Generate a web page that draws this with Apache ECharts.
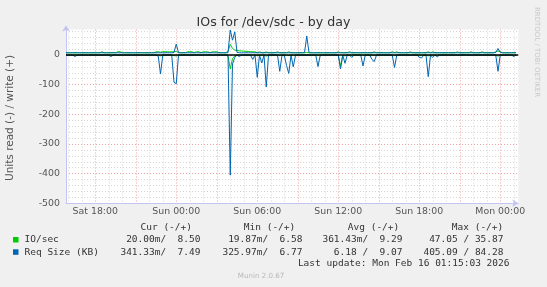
<!DOCTYPE html>
<html><head><meta charset="utf-8">
<script src="https://cdn.jsdelivr.net/npm/echarts@6/dist/echarts.min.js"></script>
<style>html,body{margin:0;padding:0;background:#f0f0f0}#c{width:547px;height:287px}</style>
</head><body><div id="c"></div>
<script>
// ---- data (10-minute samples from Sat 15:50) ----
const dayNames = ['Sat', 'Sun', 'Mon'];
const startMinute = 15 * 60 + 50;
const stepMinutes = 10;
const slotCount = 202;
const tickLabels = ['Sat 18:00', 'Sun 00:00', 'Sun 06:00', 'Sun 12:00', 'Sun 18:00', 'Mon 00:00'];
const yTickLabels = ['-500', '-400', '-300', '-200', '-100', '0'];

// IO/sec read (drawn negative)
const ioRead = [
 -0.02,-0.02,-0.02,-0.02,-0.5,-0.02,-0.02,-0.02,-0.02,-0.02,
 -0.02,-0.02,-0.02,-0.02,-0.02,-0.02,-0.02,-0.02,-0.02,-0.02,
 -0.5,-0.02,-0.02,-0.02,-0.02,-0.02,-0.02,-0.02,-0.02,-0.02,
 -0.02,-0.02,-0.02,-0.02,-0.02,-0.02,-0.02,-0.02,-0.02,-0.02,
 -0.02,-0.5,-3,-0.02,-0.02,-0.02,-0.02,-0.02,-2,-3,
 -0.02,-0.02,-0.02,-0.02,-0.02,-0.02,-0.02,-0.02,-0.02,-0.02,
 -0.02,-0.02,-0.02,-0.02,-0.02,-0.02,-0.02,-0.02,-0.02,-0.02,
 -0.02,-0.02,-3,-47.05,-12,-3,-0.5,-0.5,-0.02,-0.02,
 -0.02,-0.02,-0.02,-1,-0.02,-2,-0.02,-1,-0.02,-4,
 -0.02,-0.02,-0.02,-0.02,-0.02,-2,-0.02,-0.02,-1,-2,
 -0.02,-1,-0.02,-0.02,-0.02,-0.02,-0.02,-0.02,-0.02,-0.02,
 -0.02,-0.02,-1,-0.02,-0.02,-0.02,-0.02,-0.02,-0.02,-0.02,
 -0.02,-0.02,-38,-0.5,-3,-0.02,-0.02,-0.5,-0.02,-0.02,
 -0.02,-0.02,-1,-0.02,-0.02,-0.02,-0.5,-1,-0.02,-0.02,
 -0.02,-0.02,-0.02,-0.02,-0.02,-0.02,-2,-0.02,-0.02,-0.02,
 -0.02,-0.02,-0.02,-0.02,-0.02,-0.02,-0.02,-0.5,-0.5,-0.02,
 -0.02,-3,-0.02,-0.5,-0.02,-0.5,-0.02,-0.02,-0.02,-0.02,
 -0.02,-0.02,-0.02,-0.02,-0.02,-0.02,-0.02,-0.02,-0.02,-0.02,
 -0.02,-0.02,-0.02,-0.02,-0.02,-0.02,-0.02,-0.02,-0.02,-0.02,
 -0.02,-0.02,-4,-0.02,-0.02,-0.02,-0.02,-0.02,-0.02,-0.5,
 -0.02
];
// IO/sec write (positive)
const ioWrite = [
 7.6,7.5,7.6,7.7,7.5,7.6,7.6,7.5,7.6,7.5,
 7.6,7.5,7.6,7.6,7.5,7.7,10.8,7.6,7.5,7.6,
 7.5,7.6,7.6,10.8,11.0,7.7,7.5,7.6,7.5,7.6,
 7.6,7.5,7.7,7.6,7.5,7.6,7.6,7.5,7.7,7.6,
 10.5,11.0,9.5,11.2,10.8,11.0,10.6,11.0,10.8,12.0,
 7.8,7.6,7.7,7.6,10.8,11.0,10.6,7.7,11.0,10.8,
 7.7,10.9,10.7,11.0,7.8,10.8,10.6,11.0,7.7,7.6,
 7.6,7.7,12.0,35.87,22.0,16.5,15.0,14.0,13.5,13.0,
 12.5,12.0,11.5,11.0,10.5,7.8,10.8,7.7,7.6,10.6,
 7.7,7.6,7.6,7.8,10.8,7.6,7.6,7.7,7.6,10.8,
 7.7,7.6,7.5,7.6,7.7,7.6,7.5,8.5,7.6,7.7,
 7.6,7.5,7.7,7.6,7.6,7.5,7.7,7.6,7.5,7.6,
 7.6,10.8,7.8,7.6,7.5,7.7,11.0,7.6,7.5,7.6,
 7.6,7.5,7.7,7.6,7.5,7.6,7.6,10.8,7.6,7.5,
 7.7,7.6,7.5,7.6,7.6,11.0,7.7,10.8,7.6,7.5,
 7.6,7.6,7.5,10.8,7.7,7.6,7.6,7.5,7.6,7.7,
 7.5,10.9,7.6,10.8,7.6,7.5,7.7,7.6,7.5,7.6,
 7.6,7.5,7.6,7.7,10.8,7.6,7.5,7.6,7.6,7.5,
 10.8,7.7,7.6,7.5,7.6,10.9,7.6,7.5,7.7,7.6,
 7.6,10.8,13.5,11.0,7.6,7.6,7.5,7.7,7.6,7.8,
 8.5
];
// Req Size (KB) read (drawn negative)
const reqRead = [
 -0.3,-0.4,-0.3,-0.5,-5,-0.4,-0.3,-0.3,-0.4,-0.3,
 -0.3,-0.4,-0.3,-0.3,-0.5,-0.3,-0.4,-0.3,-0.3,-0.4,
 -5,-0.4,-0.3,-0.3,-0.4,-0.3,-0.3,-0.5,-0.3,-0.4,
 -0.3,-0.3,-0.4,-0.3,-0.3,-0.4,-0.3,-0.3,-0.5,-0.3,
 -0.4,-4,-64,-0.5,-0.3,-0.4,-0.3,-0.5,-92,-97,
 -0.6,-0.4,-0.3,-0.3,-0.4,-0.3,-0.3,-0.4,-0.3,-0.3,
 -0.4,-0.3,-0.3,-0.5,-0.3,-0.4,-0.3,-0.3,-0.4,-0.3,
 -0.3,-0.5,-1,-405.09,-30,-8,-0.6,-5,-0.4,-0.3,
 -0.3,-0.4,-0.5,-15,-0.4,-75,-0.6,-27,-0.5,-108,
 -0.6,-0.4,-0.3,-0.4,-0.5,-55,-0.4,-0.5,-35,-62,
 -0.6,-40,-0.5,-0.4,-0.3,-0.4,-0.3,-0.5,-0.3,-0.4,
 -0.3,-0.5,-39,-0.6,-0.4,-0.3,-0.3,-0.4,-0.3,-0.3,
 -0.4,-0.6,-47,-0.8,-28,-0.5,-0.4,-8,-0.3,-0.4,
 -0.3,-0.5,-37,-0.6,-0.3,-0.4,-15,-22,-0.5,-0.3,
 -0.4,-0.3,-0.3,-0.4,-0.3,-0.5,-42,-0.6,-0.3,-0.4,
 -0.3,-0.3,-0.4,-0.3,-0.3,-0.4,-0.3,-8,-10,-0.4,
 -0.5,-73,-0.6,-8,-0.4,-6,-0.3,-0.4,-0.3,-0.3,
 -0.4,-0.3,-0.3,-0.4,-0.3,-0.3,-0.4,-0.3,-0.3,-0.4,
 -0.3,-0.3,-0.4,-0.3,-0.3,-0.4,-0.3,-0.3,-0.4,-0.3,
 -0.4,-0.6,-55,-0.7,-0.4,-0.3,-0.3,-0.4,-0.3,-5,
 -0.34
];
// Req Size (KB) write (positive)
const reqWrite = [
 7.5,7.6,7.4,7.5,7.5,7.6,7.5,7.4,7.5,7.6,
 7.5,7.4,7.5,7.6,7.5,7.5,7.4,7.5,7.6,7.5,
 7.5,7.6,7.4,7.5,7.5,7.6,7.5,7.4,7.5,7.6,
 7.5,7.4,7.5,7.6,7.5,7.5,7.4,7.5,7.6,7.5,
 7.5,7.6,7.4,7.5,7.5,7.6,7.5,7.4,8.5,37,
 8.0,7.4,7.5,7.6,7.5,7.5,7.4,7.5,7.6,7.5,
 7.5,7.6,7.4,7.5,7.5,7.6,7.5,7.4,7.5,7.6,
 7.5,7.4,7.6,84.28,50,78,9.0,7.6,7.5,7.5,
 7.5,7.6,7.4,7.5,7.5,7.6,7.5,7.4,7.5,7.6,
 7.5,7.4,7.5,7.6,7.5,7.5,7.4,7.5,7.6,7.5,
 7.5,7.6,7.4,7.5,7.5,7.6,8.0,64,8.0,7.6,
 7.5,7.4,7.5,7.6,7.5,7.5,7.4,7.5,7.6,7.5,
 7.5,7.6,7.4,7.5,7.5,7.6,7.5,7.4,7.5,7.6,
 7.5,7.4,7.5,7.6,7.5,7.5,7.4,7.5,7.6,7.5,
 7.5,7.6,7.4,7.5,7.5,7.6,7.5,7.4,7.5,7.6,
 7.5,7.4,7.5,7.6,7.5,7.5,7.4,7.5,7.6,7.5,
 7.5,7.6,7.4,7.5,7.5,7.6,7.5,7.4,7.5,7.6,
 7.5,7.4,7.5,7.6,7.5,7.5,7.4,7.5,7.6,7.5,
 7.5,7.6,7.4,7.5,7.5,7.6,7.5,7.4,7.5,7.6,
 7.5,8.5,22,9.0,7.5,7.5,7.4,7.5,7.6,7.5,
 7.49
];

// legend table
const legendHeaders = ['Cur (-/+)', 'Min (-/+)', 'Avg (-/+)', 'Max (-/+)'];
const legendNames = ['IO/sec', 'Req Size (KB)'];
const legendIO = ['20.00m/  8.50', '19.87m/  6.58', '361.43m/  9.29', '47.05 / 35.87'];
const legendReq = ['341.33m/  7.49', '325.97m/  6.77', '6.18 /  9.07', '405.09 / 84.28'];
const lastUpdate = 'Last update: Mon Feb 16 01:15:03 2026';

// ---- build ----
const categories = [];
for (let i = 0; i < slotCount; i++) {
  const m = startMinute + i * stepMinutes;
  const d = Math.floor(m / 1440), md = m % 1440;
  categories.push(dayNames[d] + ' ' + String(Math.floor(md / 60)).padStart(2, '0') + ':' + String(md % 60).padStart(2, '0'));
}
function hm(v) { const p = v.split(' ')[1].split(':').map(Number); return { h: p[0], m: p[1] }; }
const isMajor = (i, v) => { const t = hm(categories[i] || v); return t.m === 0 && t.h % 3 === 0; };
const isMinor = (i, v) => { const t = hm(categories[i] || v); return t.m === 0 && t.h % 3 !== 0; };

const AXIS = '#c4c4f2', MINOR = '#d6d6d6', MAJOR = '#efa3a3';
const GREEN = '#00cc00', BLUE = '#0066b3';
const MONO = '"DejaVu Sans Mono", monospace';
const SANS = '"DejaVu Sans", sans-serif';
const TXT = '#333';

const colEnds = [200.5, 302.5, 402.5, 503.5];
const headStarts = [140.5, 243.8, 347.8, 451.8];
const g = [];
legendHeaders.forEach((h, k) => g.push({ type: 'text', x: headStarts[k], y: 227.5, style: { text: h, fontFamily: MONO, fontSize: 9.5, fill: TXT, textAlign: 'left', textVerticalAlign: 'middle' } }));
g.push({ type: 'rect', shape: { x: 13, y: 237, width: 5.5, height: 5.5 }, style: { fill: GREEN } });
g.push({ type: 'rect', shape: { x: 13, y: 249.3, width: 5.5, height: 5.5 }, style: { fill: BLUE } });
g.push({ type: 'text', x: 24.5, y: 240, style: { text: legendNames[0], fontFamily: MONO, fontSize: 9.5, fill: TXT, textVerticalAlign: 'middle' } });
g.push({ type: 'text', x: 24.5, y: 252.3, style: { text: legendNames[1], fontFamily: MONO, fontSize: 9.5, fill: TXT, textVerticalAlign: 'middle' } });
legendIO.forEach((s, k) => g.push({ type: 'text', x: colEnds[k], y: 240, style: { text: s, fontFamily: MONO, fontSize: 9.5, fill: TXT, textAlign: 'right', textVerticalAlign: 'middle' } }));
legendReq.forEach((s, k) => g.push({ type: 'text', x: colEnds[k], y: 252.3, style: { text: s, fontFamily: MONO, fontSize: 9.5, fill: TXT, textAlign: 'right', textVerticalAlign: 'middle' } }));
g.push({ type: 'text', x: 509.5, y: 263.5, style: { text: lastUpdate, fontFamily: MONO, fontSize: 9.5, fill: TXT, textAlign: 'right', textVerticalAlign: 'middle' } });
g.push({ type: 'text', x: 261, y: 276.3, style: { text: 'Munin 2.0.67', fontFamily: SANS, fontSize: 7.1, fill: '#b8b8b8', textAlign: 'center', textVerticalAlign: 'middle' } });
g.push({ type: 'text', x: 10, y: 118, rotation: Math.PI / 2, style: { text: 'Units read (-) / write (+)', fontFamily: SANS, fontSize: 10.5, fill: '#555', textAlign: 'center', textVerticalAlign: 'middle' } });
g.push({ type: 'text', x: 537, y: 52, rotation: -Math.PI / 2, style: { text: 'RRDTOOL / TOBI OETIKER', fontFamily: SANS, fontSize: 7, fill: '#c8c8c8', textAlign: 'center', textVerticalAlign: 'middle' } });

const lineSeries = (name, data, color, extra) => Object.assign({
  name, type: 'line', data, xAxisIndex: 0, yAxisIndex: 0, symbol: 'none', showSymbol: false,
  lineStyle: { color, width: 1 }, itemStyle: { color }, animation: false, silent: true
}, extra || {});

const chart = echarts.init(document.getElementById('c'), null, { renderer: 'canvas' });
chart.setOption({
  backgroundColor: '#f0f0f0',
  animation: false,
  title: { text: 'IOs for /dev/sdc - by day', left: 'center', top: 11, textStyle: { fontFamily: SANS, fontSize: 12.6, fontWeight: 'normal', color: '#333' } },
  grid: { left: 66, right: 28.75, top: 29.5, bottom: 83.7, show: true, backgroundColor: '#ffffff', borderWidth: 0 },
  xAxis: [
    { type: 'category', data: categories, boundaryGap: false, position: 'bottom',
      axisLine: { show: true, onZero: false, symbol: ['none', 'arrow'], symbolSize: [6, 6], lineStyle: { color: AXIS, width: 1 } },
      axisTick: { show: false },
      axisLabel: { interval: (i, v) => tickLabels.includes(v), color: '#555', fontFamily: SANS, fontSize: 9.4, margin: 4 },
      splitLine: { show: true, interval: isMajor, lineStyle: { color: MAJOR, width: 1, type: [1, 2] } }, z: 3 },
    { type: 'category', data: categories, boundaryGap: false, position: 'bottom',
      axisLine: { show: false }, axisTick: { show: false }, axisLabel: { show: false },
      splitLine: { show: true, interval: isMinor, lineStyle: { color: MINOR, width: 1, type: [1, 2] } }, z: 1 }
  ],
  yAxis: [
    { type: 'value', min: -500, max: 86, interval: 100,
      axisLine: { show: true, onZero: false, symbol: ['none', 'arrow'], symbolSize: [6, 6], symbolOffset: [0, 4], lineStyle: { color: AXIS, width: 1 } },
      axisTick: { show: false },
      axisLabel: { formatter: v => yTickLabels.includes(String(v)) ? String(v) : '', color: '#555', fontFamily: SANS, fontSize: 9.4, margin: 6 },
      splitLine: { show: true, showMinLine: false, showMaxLine: false, lineStyle: { color: MAJOR, width: 1, type: [1, 2] } }, z: 3 },
    { type: 'value', min: -500, max: 86, interval: 20,
      axisLine: { show: false }, axisTick: { show: false }, axisLabel: { show: false },
      splitLine: { show: true, showMinLine: false, showMaxLine: false, lineStyle: { color: MINOR, width: 1, type: [1, 2] } }, z: 1 }
  ],
  series: [
    lineSeries('IO/sec read', ioRead, GREEN),
    lineSeries('IO/sec', ioWrite, GREEN),
    lineSeries('Req Size read', reqRead, BLUE),
    lineSeries('Req Size (KB)', reqWrite, BLUE, {
      markLine: { silent: true, symbol: 'none', animation: false, label: { show: false },
        lineStyle: { color: '#000', width: 1.5, type: 'solid' }, data: [{ yAxis: 0 }] }
    })
  ],
  graphic: g
});
</script>
</body></html>
